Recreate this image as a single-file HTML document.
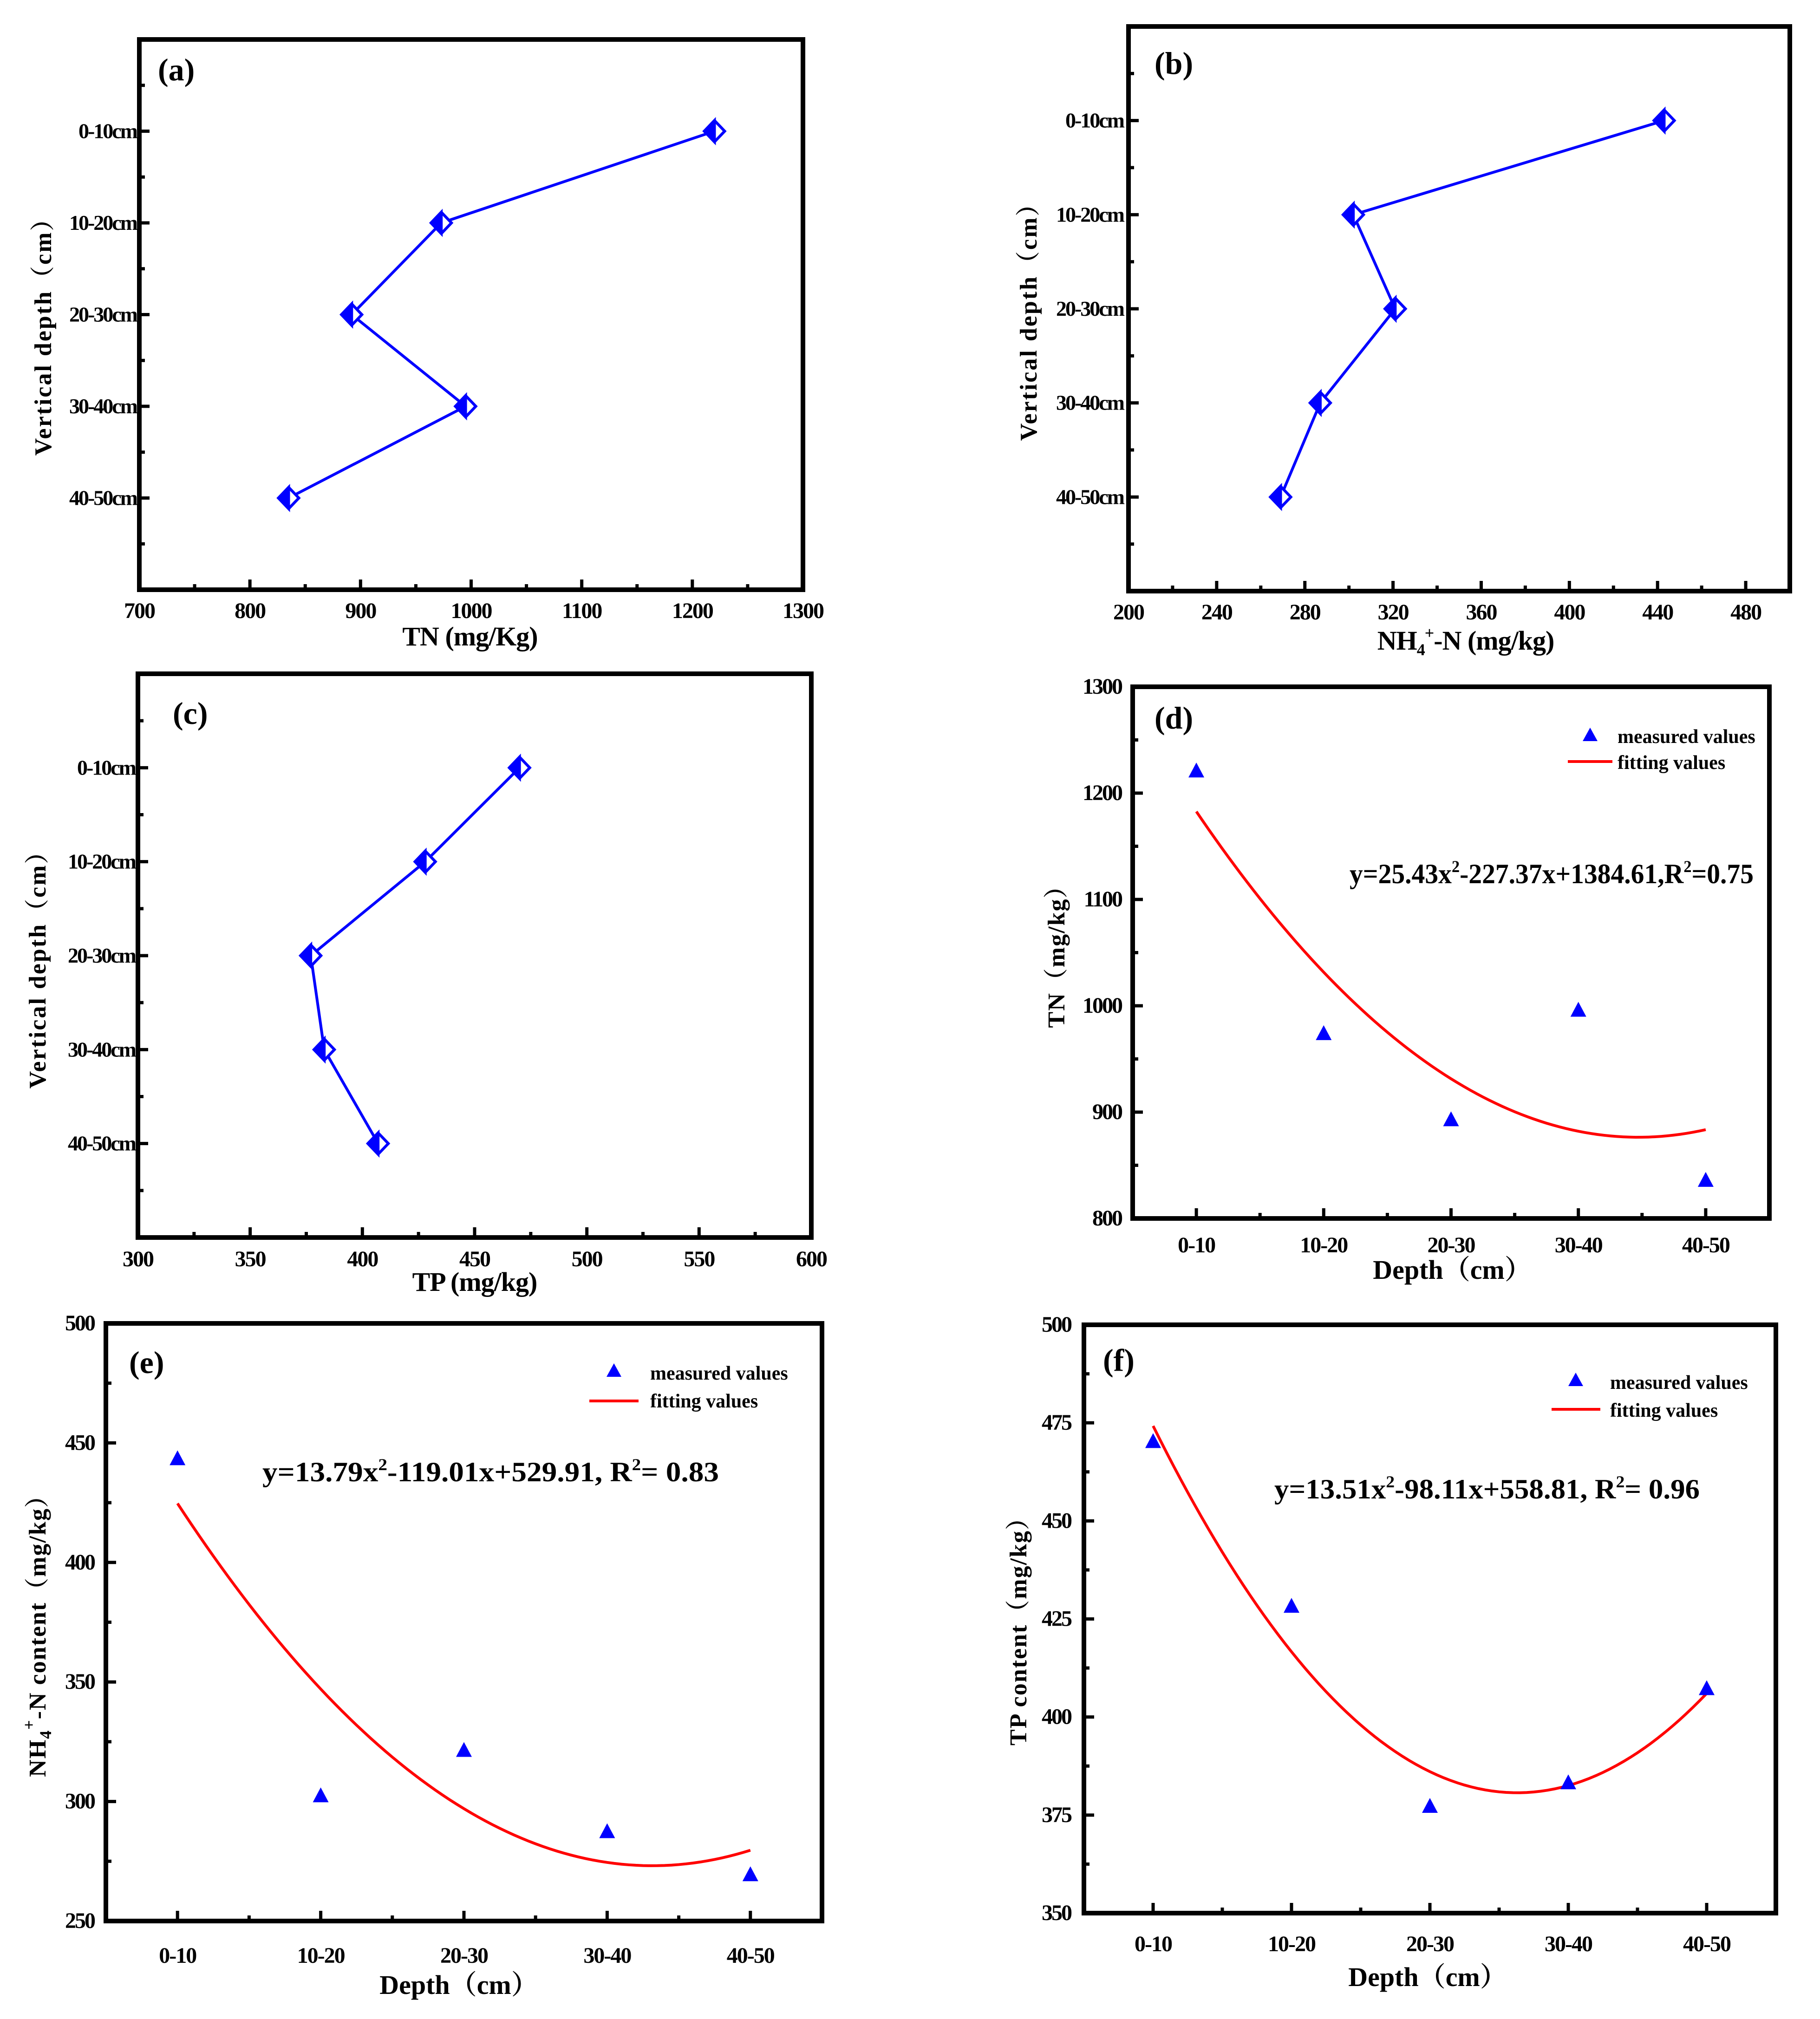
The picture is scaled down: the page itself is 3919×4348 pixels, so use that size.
<!DOCTYPE html>
<html><head><meta charset="utf-8"><style>
html,body{margin:0;padding:0;background:#fff}
svg{display:block}
text{font-family:"Liberation Serif","Noto Serif CJK SC",serif;font-weight:bold;fill:#000}
</style></head><body>
<svg id="fig" width="3919" height="4348" viewBox="0 0 3919 4348" xmlns="http://www.w3.org/2000/svg"></svg>
<script>
// ---------- data ----------
const depthLabels = ["0-10cm","10-20cm","20-30cm","30-40cm","40-50cm"];
const depthShort = ["0-10","10-20","20-30","30-40","40-50"];
const tnValues = [1220, 973, 892, 995, 835];
const nh4Values = [443, 302, 321, 287, 269];
const tpValues = [470, 428, 377, 383, 407];
const tnTicks = [700,800,900,1000,1100,1200,1300];
const nh4Ticks = [200,240,280,320,360,400,440,480];
const tpTicks = [300,350,400,450,500,550,600];
const tnFit = [25.43, -227.37, 1384.61];
const nh4Fit = [13.79, -119.01, 529.91];
const tpFit = [13.51, -98.11, 558.81];
const tnYTicks = [800,900,1000,1100,1200,1300];
const nh4YTicks = [250,300,350,400,450,500];
const tpYTicks = [350,375,400,425,450,475,500];

const NS = "http://www.w3.org/2000/svg";
const svg = document.getElementById("fig");
function el(tag, attrs, parent){
  const e = document.createElementNS(NS, tag);
  for (const k in attrs) e.setAttribute(k, attrs[k]);
  (parent||svg).appendChild(e);
  return e;
}
function linearScale(d0,d1,r0,r1){ return v => r0 + (v-d0)/(d1-d0)*(r1-r0); }

// ---------- profile panels (a,b,c) ----------
function profilePanel(cfg){
  const g = el("g", {});
  
  
  const {L,T,R,B} = cfg;
  const x = linearScale(cfg.xmin, cfg.xmax, L, R);
  const yc = linearScale(-1, 5, T, B);
  for (let v = cfg.xmin; v <= cfg.xmax + 1e-9; v += cfg.minor){
    const major = Math.abs(((v - cfg.xmin) / cfg.major) - Math.round((v - cfg.xmin) / cfg.major)) < 1e-6;
    const t = el("line", {x1:x(v), x2:x(v), y1:B, y2:B-(major?22:12), stroke:"#000","stroke-width":7}, g);
    
    
  }
  cfg.ticks.forEach(v => {
    const t = el("text", {x:x(v), y:cfg.tickY, "text-anchor":"middle","font-size":48,"letter-spacing":"-2"}, g);
    t.textContent = v;
    
    
  });
  for (let i = -0.5; i <= 4.5; i += 0.5){
    const major = Number.isInteger(i);
    const t = el("line", {x1:L, x2:L+(major?22:12), y1:yc(i), y2:yc(i), stroke:"#000","stroke-width":7}, g);
    
    
  }
  depthLabels.forEach((lab,i) => {
    const t = el("text", {x:cfg.labRight, y:yc(i)+15, "text-anchor":"end","font-size":46,"letter-spacing":"-3"}, g);
    t.textContent = lab;
    
    
  });
  const box = el("rect", {x:L, y:T, width:R-L, height:B-T, fill:"none", stroke:"#000","stroke-width":10}, g);
  
  
  const pts = cfg.values.map((v,i) => x(v)+","+yc(i)).join(" ");
  const pl = el("polyline", {points:pts, fill:"none", stroke:"#0000ff","stroke-width":6}, g);
  
  
  cfg.values.forEach((v,i) => {
    const cx = x(v), cy = yc(i), w = 22, h = 23;
    const bg = el("polygon", {points:`${cx},${cy-h-4} ${cx+w+4},${cy} ${cx},${cy+h+4} ${cx-w-4},${cy}`, fill:"#fff"}, g);
    
    
    const d = el("polygon", {points:`${cx},${cy-h} ${cx+w},${cy} ${cx},${cy+h} ${cx-w},${cy}`, fill:"#fff", stroke:"#0000ff","stroke-width":6}, g);
    
    
    const hf = el("polygon", {points:`${cx},${cy-h} ${cx},${cy+h} ${cx-w},${cy}`, fill:"#0000ff", stroke:"#0000ff","stroke-width":6}, g);
    
    
  });
  const pn = el("text", {x:cfg.pX, y:cfg.pY, "font-size":68}, g);
  pn.textContent = cfg.panel;
  
  
  const xt = el("text", {x:cfg.xtX, y:cfg.xtY, "text-anchor":"middle","font-size":58,"letter-spacing":"-1"}, g);
  xt.innerHTML = cfg.xtitle;
  
  
  const yt = el("text", {x:0, y:0, "text-anchor":"middle","font-size":52,"letter-spacing":"3", transform:`translate(${cfg.ytX},${cfg.ytY}) rotate(-90)`}, g);
  yt.textContent = "Vertical depth（cm）";
  
  
}

// ---------- fit panels (d,e,f) ----------
function fitPanel(cfg){
  const g = el("g", {});
  
  
  const {L,T,R,B} = cfg;
  const x = linearScale(0.5, 5.5, L, R);
  const y = linearScale(cfg.ymin, cfg.ymax, B, T);
  for (let v = cfg.ymin; v <= cfg.ymax + 1e-9; v += cfg.yminor){
    const major = Math.abs(((v - cfg.ymin)/cfg.ymajor) - Math.round((v - cfg.ymin)/cfg.ymajor)) < 1e-6;
    const t = el("line", {x1:L, x2:L+(major?22:12), y1:y(v), y2:y(v), stroke:"#000","stroke-width":7}, g);
    
    
  }
  cfg.yticks.forEach(v => {
    const t = el("text", {x:cfg.yLabRight, y:y(v)+15, "text-anchor":"end","font-size":48,"letter-spacing":"-3"}, g);
    t.textContent = v;
    
    
  });
  for (let i = 1; i <= 5; i += 0.5){
    const major = Number.isInteger(i);
    const t = el("line", {x1:x(i), x2:x(i), y1:B, y2:B-(major?22:12), stroke:"#000","stroke-width":7}, g);
    
    
  }
  depthShort.forEach((lab,i) => {
    const t = el("text", {x:x(i+1), y:cfg.xLabY, "text-anchor":"middle","font-size":48,"letter-spacing":"-2"}, g);
    t.textContent = lab;
    
    
  });
  const box = el("rect", {x:L, y:T, width:R-L, height:B-T, fill:"none", stroke:"#000","stroke-width":10}, g);
  
  
  const c = cfg.fit, pts = [];
  for (let k = 0; k <= 80; k++){
    const xv = 1 + 4*k/80;
    pts.push(x(xv)+","+y(c[0]*xv*xv + c[1]*xv + c[2]));
  }
  const fc = el("polyline", {points:pts.join(" "), fill:"none", stroke:"#ff0000","stroke-width":6}, g);
  
  
  cfg.values.forEach((v,i) => {
    const cx = x(i+1), cy = y(v);
    const tr = el("polygon", {points:`${cx},${cy-20} ${cx+17},${cy+12} ${cx-17},${cy+12}`, fill:"#0000ff"}, g);
    
    
  });
  const lg = el("g", {}, g);
  
  
  const lt = el("polygon", {points:`${cfg.legTriX},${cfg.legTriY-18} ${cfg.legTriX+16},${cfg.legTriY+11} ${cfg.legTriX-16},${cfg.legTriY+11}`, fill:"#0000ff"}, lg);
  
  
  const t1 = el("text", {x:cfg.legTextX, y:cfg.legY1, "font-size":42}, lg);
  t1.textContent = "measured values";
  
  
  const ll = el("line", {x1:cfg.legLineX1, x2:cfg.legLineX2, y1:cfg.legLineY, y2:cfg.legLineY, stroke:"#ff0000","stroke-width":6}, lg);
  
  
  const t2 = el("text", {x:cfg.legTextX, y:cfg.legY2, "font-size":42}, lg);
  t2.textContent = "fitting values";
  
  
  const eq = el("text", {x:cfg.eqX, y:cfg.eqY, "font-size":60, textLength:cfg.eqW, lengthAdjust:"spacingAndGlyphs"}, g);
  eq.innerHTML = cfg.eq;
  
  
  const pn = el("text", {x:cfg.pX, y:cfg.pY, "font-size":68}, g);
  pn.textContent = cfg.panel;
  
  
  const xt = el("text", {x:cfg.xtX, y:cfg.xtY, "text-anchor":"middle","font-size":58}, g);
  xt.textContent = "Depth（cm）";
  
  
  const yt = el("text", {x:0, y:0, "text-anchor":"middle","font-size":52,"letter-spacing":"2", transform:`translate(${cfg.ytX},${cfg.ytY}) rotate(-90)`}, g);
  yt.innerHTML = cfg.ytitle;
  
  
}

const nh4Title = 'NH<tspan font-size="36" dy="12">4</tspan><tspan font-size="36" dy="-36">+</tspan><tspan dy="24">-N (mg/kg)</tspan>';

profilePanel({name:"panel-a-tn-profile", panel:"(a)", L:300,T:85,R:1729,B:1270, xmin:700,xmax:1300,major:100,minor:50, ticks:tnTicks, values:tnValues,
  tickY:1331, labRight:294, pX:340, pY:173, xtX:1012, xtY:1390, xtitle:"TN (mg/Kg)", ytX:110, ytY:712});
profilePanel({name:"panel-b-nh4-profile", panel:"(b)", L:2430,T:57,R:3854,B:1273, xmin:200,xmax:500,major:40,minor:20, ticks:nh4Ticks, values:nh4Values,
  tickY:1334, labRight:2419, pX:2486, pY:159, xtX:3156, xtY:1399, xtitle:nh4Title, ytX:2232, ytY:680});
profilePanel({name:"panel-c-tp-profile", panel:"(c)", L:297,T:1451,R:1747,B:2665, xmin:300,xmax:600,major:50,minor:25, ticks:tpTicks, values:tpValues,
  tickY:2727, labRight:291, pX:372, pY:1559, xtX:1022, xtY:2780, xtitle:"TP (mg/kg)", ytX:98, ytY:2075});

fitPanel({name:"panel-d-tn-fit", panel:"(d)", L:2439,T:1479,R:3810,B:2624, ymin:800,ymax:1300,ymajor:100,yminor:50, yticks:tnYTicks, values:tnValues, fit:tnFit,
  yLabRight:2415, xLabY:2697, pX:2486, pY:1569, xtX:3127, xtY:2754, ytX:2292, ytY:2047, ytitle:"TN（mg/kg）",
  legTriX:3424, legTriY:1585, legTextX:3483, legY1:1600, legY2:1656, legLineX1:3376, legLineX2:3472, legLineY:1640,
  eqX:2906, eqY:1902, eqW:870, eq:'y=25.43x<tspan font-size="36" dy="-24">2</tspan><tspan dy="24">-227.37x+1384.61,R</tspan><tspan font-size="36" dy="-24">2</tspan><tspan dy="24">=0.75</tspan>'});
fitPanel({name:"panel-e-nh4-fit", panel:"(e)", L:228,T:2850,R:1770,B:4137, ymin:250,ymax:500,ymajor:50,yminor:25, yticks:nh4YTicks, values:nh4Values, fit:nh4Fit,
  yLabRight:203, xLabY:4227, pX:278, pY:2957, xtX:988, xtY:4294, ytX:98, ytY:3510,
  ytitle:'NH<tspan font-size="36" dy="12">4</tspan><tspan font-size="36" dy="-36">+</tspan><tspan dy="24">-N content（mg/kg）</tspan>',
  legTriX:1322, legTriY:2954, legTextX:1400, legY1:2971, legY2:3031, legLineX1:1269, legLineX2:1375, legLineY:3017,
  eqX:565, eqY:3190, eqW:983, eq:'y=13.79x<tspan font-size="36" dy="-24">2</tspan><tspan dy="24">-119.01x+529.91, R</tspan><tspan font-size="36" dy="-24">2</tspan><tspan dy="24">= 0.83</tspan>'});
fitPanel({name:"panel-f-tp-fit", panel:"(f)", L:2334,T:2853,R:3824,B:4120, ymin:350,ymax:500,ymajor:25,yminor:12.5, yticks:tpYTicks, values:tpValues, fit:tpFit,
  yLabRight:2306, xLabY:4202, pX:2375, pY:2952, xtX:3074, xtY:4277, ytX:2210, ytY:3500, ytitle:"TP content（mg/kg）",
  legTriX:3393, legTriY:2974, legTextX:3467, legY1:2991, legY2:3051, legLineX1:3341, legLineX2:3446, legLineY:3035,
  eqX:2744, eqY:3227, eqW:916, eq:'y=13.51x<tspan font-size="36" dy="-24">2</tspan><tspan dy="24">-98.11x+558.81, R</tspan><tspan font-size="36" dy="-24">2</tspan><tspan dy="24">= 0.96</tspan>'});
</script>
</body></html>
